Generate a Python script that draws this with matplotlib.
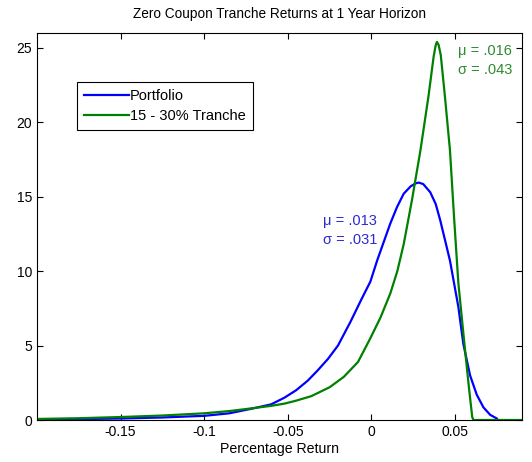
import numpy as np
import matplotlib
matplotlib.use('Agg')
import matplotlib.pyplot as plt

plt.rcParams['font.family'] = ['Liberation Sans', 'DejaVu Sans']

# portfolio return density
x_port = [-0.2, -0.175, -0.15, -0.125, -0.1, -0.085, -0.072, -0.06, -0.052, -0.045,
          -0.038, -0.0324, -0.026, -0.02, -0.0125, -0.006, -0.0006, 0.0034, 0.0075, 0.0113,
          0.0153, 0.0193, 0.0235, 0.0265, 0.0283, 0.031, 0.0352, 0.0385, 0.0412, 0.044,
          0.047, 0.052, 0.055, 0.059, 0.063, 0.067, 0.071, 0.075]
y_port = [0.03, 0.06, 0.1, 0.17, 0.28, 0.45, 0.75, 1.05, 1.5, 2.0,
          2.65, 3.3, 4.1, 5.0, 6.6, 8.1, 9.3, 10.7, 12.0, 13.2,
          14.3, 15.2, 15.7, 15.9, 15.95, 15.85, 15.3, 14.5, 13.4, 12.1,
          10.7, 7.6, 5.1, 3.0, 1.7, 0.85, 0.35, 0.1]

# 15 - 30% tranche return density
x_tr = [-0.2, -0.175, -0.15, -0.125, -0.1, -0.085, -0.074, -0.06, -0.052, -0.045,
        -0.036, -0.025, -0.0165, -0.008, -0.0006, 0.0055, 0.0113, 0.0155, 0.0193, 0.0243,
        0.0293, 0.0342, 0.0372, 0.0384, 0.0392, 0.0402, 0.0415, 0.044, 0.047, 0.0495,
        0.052, 0.056, 0.0585, 0.0603, 0.061, 0.09]
y_tr = [0.07, 0.12, 0.2, 0.3, 0.45, 0.6, 0.75, 0.95, 1.1, 1.3,
        1.6, 2.2, 2.9, 3.9, 5.5, 6.9, 8.5, 10.0, 11.8, 14.8,
        18.1, 21.8, 24.4, 25.15, 25.4, 25.2, 24.5, 21.7, 18.1, 13.5,
        9.2, 4.7, 2.0, 0.2, 0.0, 0.0]

labels = ['Portfolio', '15 - 30% Tranche']
xticks = [-0.15, -0.1, -0.05, 0, 0.05]
xticklabels = ['-0.15', '-0.1', '-0.05', '0', '0.05']
yticks = [0, 5, 10, 15, 20, 25]

fig = plt.figure(figsize=(5.32, 4.62), dpi=100)
ax = fig.add_axes([0.0695, 0.0909, 0.9115, 0.8377])

ax.plot(x_port, y_port, color=(0, 0, 1), lw=1.6, label=labels[0])
ax.plot(x_tr, y_tr, color=(0, 0.5, 0), lw=1.6, label=labels[1])

ax.set_xlim(-0.2, 0.09)
ax.set_ylim(0, 26)
ax.set_xticks(xticks)
ax.set_xticklabels(xticklabels)
ax.set_yticks(yticks)
ax.tick_params(direction='in', top=True, right=True, length=4, labelsize=10)

ax.set_title('Zero Coupon Tranche Returns at 1 Year Horizon', fontsize=9.8, pad=11)
ax.set_xlabel('Percentage Return', fontsize=10.2, labelpad=2)

ax.text(-0.0287, 13.4, '\u03bc = .013', color='#2b2bd0', fontsize=10.5, va='center')
ax.text(-0.0287, 12.1, '\u03c3 = .031', color='#2b2bd0', fontsize=10.5, va='center')
ax.text(0.052, 24.8, '\u03bc = .016', color='#2e8b2e', fontsize=10.5, va='center')
ax.text(0.052, 23.5, '\u03c3 = .043', color='#2e8b2e', fontsize=10.5, va='center')

leg = ax.legend(loc='upper left', bbox_to_anchor=(0.0825, 0.873), fontsize=10.5,
                handlelength=3.1, handletextpad=0.1, fancybox=False,
                edgecolor='black', framealpha=1, borderaxespad=0, borderpad=0.45,
                labelspacing=0.45)
leg.get_frame().set_linewidth(0.8)

fig.savefig('out.png', dpi=100)
